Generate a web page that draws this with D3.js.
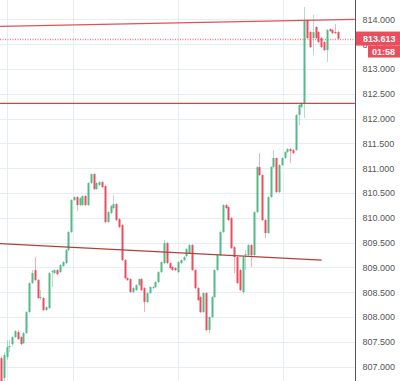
<!DOCTYPE html>
<html>
<head>
<meta charset="utf-8">
<script src="https://cdn.jsdelivr.net/npm/d3@7/dist/d3.min.js"></script>
<style>
  html, body { margin: 0; padding: 0; background: #fff; }
  svg { display: block; }
  .tick text { font-family: "Liberation Sans", Arial, sans-serif; }
</style>
</head>
<body>
<div id="chart"></div>
<script>
// candles as [open, high, low, close]
const candles = [
  [807.172, 807.212, 806.607, 806.647],
  [806.768, 807.292, 806.708, 807.232],
  [807.192, 807.534, 807.131, 807.393],
  [807.393, 807.534, 807.292, 807.414],
  [807.454, 807.615, 807.414, 807.595],
  [807.595, 807.736, 807.575, 807.716],
  [807.696, 807.736, 807.534, 807.555],
  [807.595, 807.615, 807.434, 807.454],
  [807.474, 807.696, 807.454, 807.676],
  [807.676, 808.120, 807.656, 808.099],
  [808.099, 808.704, 808.079, 808.684],
  [808.684, 808.946, 808.664, 808.885],
  [808.946, 809.208, 808.724, 808.744],
  [808.744, 808.764, 808.361, 808.381],
  [808.381, 808.543, 808.341, 808.402],
  [808.381, 808.402, 808.120, 808.140],
  [808.140, 808.220, 808.120, 808.200],
  [808.180, 808.905, 808.160, 808.885],
  [808.905, 808.946, 808.603, 808.925],
  [808.885, 808.966, 808.865, 808.946],
  [808.946, 808.966, 808.845, 808.865],
  [808.905, 809.067, 808.885, 809.047],
  [809.026, 809.127, 809.006, 809.107],
  [809.087, 809.369, 809.067, 809.349],
  [809.349, 809.732, 809.329, 809.712],
  [809.712, 810.377, 809.692, 810.357],
  [810.357, 810.438, 810.337, 810.417],
  [810.417, 810.438, 810.135, 810.256],
  [810.256, 810.417, 810.236, 810.397],
  [810.256, 810.458, 810.236, 810.438],
  [810.438, 810.458, 810.236, 810.256],
  [810.256, 810.720, 810.236, 810.700],
  [810.700, 810.901, 810.680, 810.881],
  [810.881, 810.901, 810.559, 810.579],
  [810.579, 810.720, 810.559, 810.700],
  [810.659, 810.740, 810.639, 810.720],
  [810.720, 810.740, 810.599, 810.619],
  [810.639, 810.659, 809.893, 809.913],
  [809.913, 810.135, 809.893, 810.115],
  [810.095, 810.256, 810.075, 810.236],
  [810.196, 810.458, 810.176, 810.276],
  [810.276, 810.296, 809.934, 809.954],
  [809.974, 809.994, 809.793, 809.813],
  [809.853, 809.873, 809.127, 809.147],
  [809.147, 809.167, 808.764, 808.784],
  [808.784, 808.804, 808.724, 808.744],
  [808.764, 808.784, 808.482, 808.502],
  [808.502, 808.603, 808.482, 808.583],
  [808.543, 808.664, 808.523, 808.643],
  [808.643, 808.784, 808.623, 808.764],
  [808.764, 808.784, 808.523, 808.543],
  [808.583, 808.603, 808.099, 808.301],
  [808.301, 808.502, 808.281, 808.482],
  [808.482, 808.623, 808.462, 808.603],
  [808.583, 808.623, 808.563, 808.603],
  [808.603, 808.724, 808.583, 808.704],
  [808.704, 808.925, 808.684, 808.905],
  [808.905, 809.127, 808.885, 809.107],
  [809.087, 809.551, 809.067, 809.490],
  [809.490, 809.510, 809.067, 809.087],
  [809.087, 809.107, 808.966, 808.986],
  [809.006, 809.026, 808.926, 808.946],
  [808.986, 809.006, 808.926, 808.946],
  [808.905, 809.127, 808.885, 809.107],
  [809.087, 809.167, 809.067, 809.147],
  [809.147, 809.228, 809.127, 809.208],
  [809.228, 809.389, 809.208, 809.369],
  [809.289, 809.470, 809.268, 809.450],
  [809.450, 809.470, 808.926, 808.946],
  [808.946, 808.966, 808.563, 808.583],
  [808.583, 808.603, 808.321, 808.341],
  [808.402, 808.422, 808.079, 808.099],
  [808.099, 808.502, 808.079, 808.482],
  [808.482, 808.502, 807.716, 807.736],
  [807.736, 808.018, 807.676, 807.998],
  [807.998, 808.422, 807.978, 808.402],
  [808.402, 808.966, 808.381, 808.946],
  [808.946, 809.268, 808.926, 809.248],
  [809.248, 809.732, 809.228, 809.712],
  [809.712, 810.276, 809.692, 810.256],
  [810.256, 810.276, 810.176, 810.196],
  [810.216, 810.236, 809.934, 809.954],
  [809.994, 810.014, 809.369, 809.389],
  [809.409, 809.429, 808.885, 809.208],
  [809.208, 809.228, 808.664, 808.684],
  [808.946, 808.966, 808.523, 808.543],
  [808.502, 809.228, 808.462, 809.208],
  [809.248, 809.349, 808.946, 809.268],
  [809.248, 809.470, 809.228, 809.450],
  [809.450, 809.470, 809.006, 809.248],
  [809.248, 810.135, 809.228, 810.115],
  [810.115, 811.042, 810.095, 811.022],
  [811.022, 811.305, 810.841, 810.861],
  [810.861, 810.881, 809.934, 809.954],
  [809.954, 809.974, 809.591, 809.692],
  [809.692, 810.438, 809.672, 810.417],
  [810.417, 811.042, 810.397, 811.022],
  [811.022, 811.365, 811.002, 811.204],
  [811.204, 811.224, 810.498, 810.518],
  [810.518, 811.083, 810.498, 811.063],
  [811.063, 811.224, 811.043, 811.204],
  [811.204, 811.345, 811.184, 811.325],
  [811.325, 811.405, 811.305, 811.385],
  [811.385, 811.405, 811.103, 811.345],
  [811.365, 811.385, 811.285, 811.305],
  [811.365, 812.091, 811.345, 812.071],
  [812.071, 812.292, 811.869, 812.272],
  [812.232, 812.332, 812.212, 812.312],
  [812.312, 814.248, 812.010, 813.986],
  [813.986, 814.006, 813.603, 813.623],
  [813.744, 813.764, 813.422, 813.442],
  [813.623, 814.087, 813.280, 813.744],
  [813.845, 813.865, 813.603, 813.623],
  [813.744, 813.764, 813.522, 813.542],
  [813.623, 813.643, 813.422, 813.442],
  [813.542, 813.562, 813.361, 813.381],
  [813.381, 813.804, 813.139, 813.784],
  [813.804, 813.824, 813.744, 813.764],
  [813.784, 813.804, 813.704, 813.724],
  [813.744, 813.905, 813.704, 813.724],
  [813.744, 813.764, 813.593, 813.613]
];

const priceTicks = [807, 807.5, 808, 808.5, 809, 809.5, 810, 810.5, 811, 811.5, 812, 812.5, 813, 813.5, 814];
const priceDomain = [806.71, 814.39];
const timeGrid = [2.1, 25.6, 63, 100.4];   // vertical grid, in candle index units

// drawn lines: [[index, price], [index, price]]
const trendTop = [[-0.4, 813.859], [126, 814.0]];
const levelLine = [[-0.4, 812.306], [126, 812.306]];
const trendLow = [[-0.4, 809.48], [114.2, 809.147]];

const lastPrice = 813.613;
const countdown = '01:58';

const W = 400, H = 381;
const plotRight = 355;
const upColor = '#53b987', downColor = '#eb4d5c';

const svg = d3.select('#chart').append('svg')
  .attr('width', W).attr('height', H);

const x = d3.scaleLinear().domain([0, candles.length - 1]).range([1, 338]);
const y = d3.scaleLinear().domain(priceDomain).range([H, 0]);

// grid
svg.append('g').selectAll('line')
  .data(priceTicks)
  .enter().append('line')
  .attr('x1', 0).attr('x2', plotRight)
  .attr('y1', d => Math.round(y(d)) + 0.5)
  .attr('y2', d => Math.round(y(d)) + 0.5)
  .attr('stroke', '#e6edf3');

svg.append('g').selectAll('line')
  .data(timeGrid)
  .enter().append('line')
  .attr('x1', d => Math.round(x(d)) + 0.5)
  .attr('x2', d => Math.round(x(d)) + 0.5)
  .attr('y1', 0).attr('y2', H)
  .attr('stroke', '#e6edf3');

// last price dotted line
svg.append('line')
  .attr('x1', 0).attr('x2', plotRight)
  .attr('y1', Math.round(y(lastPrice)) + 0.5)
  .attr('y2', Math.round(y(lastPrice)) + 0.5)
  .attr('stroke', '#f27a86')
  .attr('stroke-width', 1.5)
  .attr('stroke-dasharray', '1,1.5');

// candles
const cg = svg.append('g');
const c = cg.selectAll('.candle')
  .data(candles)
  .enter().append('g')
  .attr('class', 'candle');

c.append('line')
  .attr('x1', (d, i) => Math.round(x(i)) + 0.5)
  .attr('x2', (d, i) => Math.round(x(i)) + 0.5)
  .attr('y1', d => y(d[1]))
  .attr('y2', d => y(d[2]))
  .attr('stroke', d => d[3] >= d[0] ? upColor : downColor)
  .attr('stroke-opacity', 0.45);

c.append('rect')
  .attr('x', (d, i) => Math.round(x(i)) - 0.5)
  .attr('width', 2)
  .attr('y', d => y(Math.max(d[0], d[3])))
  .attr('height', d => Math.max(1, Math.abs(y(d[0]) - y(d[3]))))
  .attr('fill', d => d[3] >= d[0] ? upColor : downColor);

// drawn lines
const lineGen = d3.line().x(d => x(d[0])).y(d => y(d[1]));
svg.append('path').datum(trendTop)
  .attr('d', lineGen).attr('fill', 'none')
  .attr('stroke', '#e0505a').attr('stroke-width', 1.3);
svg.append('path').datum(levelLine)
  .attr('d', lineGen).attr('fill', 'none')
  .attr('stroke', '#c4474b').attr('stroke-width', 1.4);
svg.append('path').datum(trendLow)
  .attr('d', lineGen).attr('fill', 'none')
  .attr('stroke', '#b0403e').attr('stroke-width', 1.3);

// right price axis
const axis = svg.append('g')
  .attr('transform', `translate(${plotRight + 0.5},0)`)
  .call(d3.axisRight(y)
    .tickValues(priceTicks)
    .tickFormat(d3.format('.3f'))
    .tickSize(0)
    .tickPadding(7));
axis.select('.domain').attr('stroke', '#555').attr('d', `M0,0V${H}`);
axis.selectAll('.tick text')
  .attr('fill', '#555')
  .style('font-size', '9px');

// last price label (covers the 813.500 tick as in the original)
const ly = y(lastPrice);
svg.append('rect')
  .attr('x', plotRight + 1).attr('y', ly - 7)
  .attr('width', W - plotRight - 1).attr('height', 14)
  .attr('fill', downColor);
svg.append('text')
  .attr('x', plotRight + 8).attr('y', ly)
  .attr('dy', '0.35em')
  .attr('fill', '#fff')
  .style('font-family', '"Liberation Sans", Arial, sans-serif')
  .style('font-size', '9px')
  .style('font-weight', 'bold')
  .text(d3.format('.3f')(lastPrice));
svg.append('rect')
  .attr('x', 368).attr('y', ly + 7)
  .attr('width', W - 368).attr('height', 12)
  .attr('fill', downColor);
svg.append('text')
  .attr('x', 372).attr('y', ly + 13)
  .attr('dy', '0.35em')
  .attr('fill', '#fff')
  .style('font-family', '"Liberation Sans", Arial, sans-serif')
  .style('font-size', '9px')
  .style('font-weight', 'bold')
  .text(countdown);
</script>
</body>
</html>
